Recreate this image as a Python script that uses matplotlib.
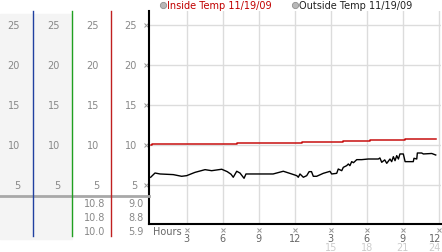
# Inside / outside temperature for 11/19/09, hours on x, temp on y
# with the four value columns on the left side

import matplotlib
matplotlib.use('Agg')
import matplotlib.pyplot as plt
from matplotlib.lines import Line2D
from matplotlib.patches import Rectangle
from matplotlib.transforms import blended_transform_factory

# data
inside_hours = [0, 0.1, 7.2, 12.6, 16.0, 18.3, 21.2, 23.75]
inside_temp = [10.06, 10.19, 10.27, 10.4, 10.52, 10.65, 10.81, 10.81]

outside_hours = [0, 0.36, 0.78, 1.88, 2.58, 3.0, 3.69, 4.53, 5.08, 5.92, 6.38,
                 6.7, 6.88, 7.17, 7.44, 7.78, 7.94, 10.2, 11.05, 11.75, 12.17,
                 12.3, 12.44, 12.72, 13.0, 13.2, 13.4, 13.55, 13.83, 14.38,
                 14.94, 15.08, 15.5, 15.63, 15.92, 16.05, 16.33, 16.47, 16.6,
                 16.75, 16.9, 17.17, 17.58, 18.13, 18.97, 19.1, 19.25, 19.5,
                 19.67, 19.94, 20.08, 20.22, 20.36, 20.5, 20.64, 20.77, 21.05,
                 21.2, 21.88, 21.94, 22.17, 22.22, 22.58, 22.72, 23.42, 23.75]
outside_temp = [6.03, 6.56, 6.44, 6.36, 6.15, 6.23, 6.64, 6.98, 6.85, 7.03, 6.73,
                6.4, 6.03, 6.78, 6.56, 5.9, 6.44, 6.44, 6.78, 6.44, 6.23,
                6.03, 6.44, 6.03, 6.23, 6.73, 6.73, 6.15, 6.15, 6.52,
                6.77, 6.44, 6.52, 7.06, 6.85, 7.27, 7.48, 7.69, 7.48,
                7.98, 7.85, 8.23, 8.23, 8.31, 8.31, 8.44, 7.9, 8.2,
                7.77, 8.31, 7.98, 8.6, 8.1, 8.73, 8.31, 8.94, 8.94,
                7.98, 7.98, 8.4, 8.31, 9.06, 9.06, 8.94, 9.0, 8.81]

y_ticks = [5, 10, 15, 20, 25]
x_ticks = [3, 6, 9, 12, 15, 18, 21, 24]
x_labels = ['3', '6', '9', '12', '3', '6', '9', '12']
x_labels_24 = ['15', '18', '21', '24']
inside_stats = ['10.8', '10.8', '10.0']
outside_stats = ['9.0', '8.8', '5.9']

W, H = 442, 253
fig = plt.figure(figsize=(W / 100, H / 100), dpi=100)
ax = fig.add_axes([149 / W, (H - 225) / H, 292 / W, 213 / H])

ax.plot(inside_hours, inside_temp, color='#c81010', lw=1.1, drawstyle='steps-post')
ax.plot(outside_hours, outside_temp, color='black', lw=1.0)

ax.set_xlim(-0.14, 24.19)
ax.set_ylim(0.19, 26.8)
ax.set_xticks(x_ticks)
ax.set_yticks(y_ticks)
ax.set_xticklabels([])
ax.set_yticklabels([])
ax.tick_params(length=0)
ax.grid(True, color='#dcdcdc', lw=1)
ax.set_axisbelow(True)
for s in ['top', 'right']:
    ax.spines[s].set_visible(False)
for s in ['left', 'bottom']:
    ax.spines[s].set_linewidth(1.5)
    ax.spines[s].set_color('black')

# small tick glyphs
gray = '#888888'
ax.plot([-0.38] * len(y_ticks), y_ticks, ls='none', marker='x', ms=2.5,
        mew=0.7, color='#999999', clip_on=False)
ax.plot(x_ticks, [-0.5] * len(x_ticks), ls='none', marker='x', ms=2.5,
        mew=0.7, color='#999999', clip_on=False)

# x labels, the last one kept inside the picture
fy = blended_transform_factory(ax.transData, fig.transFigure)
for x, lab in zip(x_ticks, x_labels):
    if x == 24:
        fig.text(24.19, (H - 239) / H, lab, transform=fy, ha='right', va='center',
                 fontsize=7, color='#666666')
    else:
        fig.text(x, (H - 239) / H, lab, transform=fy, ha='center', va='center',
                 fontsize=7, color='#666666')
for x, lab in zip(x_ticks[4:], x_labels_24):
    if x == 24:
        fig.text(24.19, (H - 248) / H, lab, transform=fy, ha='right', va='center',
                 fontsize=7, color='#cccccc')
    else:
        fig.text(x, (H - 248) / H, lab, transform=fy, ha='center', va='center',
                 fontsize=7, color='#cccccc')
fig.text(153 / W, (H - 232) / H, 'Hours', ha='left', va='center',
         fontsize=7, color='#666666')

# left side columns
for x0, x1 in [(0, 33), (34, 72)]:
    fig.patches.append(Rectangle((x0 / W, (H - 240) / H), (x1 - x0) / W, 225 / H,
                                 transform=fig.transFigure, color='#f4f4f4', zorder=0))
fig.add_artist(Line2D([0, 149 / W], [(H - 197) / H] * 2, color='#a8a8a8', lw=2))
for x, c in [(33, '#2040a0'), (72, '#20a020'), (111, '#c02020')]:
    fig.add_artist(Line2D([x / W] * 2, [(H - 237) / H, (H - 12) / H], color=c, lw=1))

fx = blended_transform_factory(fig.transFigure, ax.transData)
for right in [20, 60, 99, 137]:
    for v in y_ticks:
        fig.text(right / W, v, str(v), transform=fx, ha='right', va='center',
                 fontsize=7, color=gray)
for i, (a, b) in enumerate(zip(inside_stats, outside_stats)):
    yy = (H - (204 + 14 * i)) / H
    fig.text(105 / W, yy, a, ha='right', va='center', fontsize=7, color=gray)
    fig.text(144 / W, yy, b, ha='right', va='center', fontsize=7, color=gray)

# legend at the top
for x, lab, c in [(163, 'Inside Temp 11/19/09', '#c00000'),
                  (295, 'Outside Temp 11/19/09', '#222222')]:
    fig.add_artist(Line2D([x / W], [(H - 6) / H], marker='o', ms=4.5,
                          color='#b8b8b8', mec='#909090', mew=0.6))
    fig.text((x + 4) / W, (H - 6) / H, lab, ha='left', va='center',
             fontsize=7, color=c)

plt.savefig('out.png', dpi=100)
